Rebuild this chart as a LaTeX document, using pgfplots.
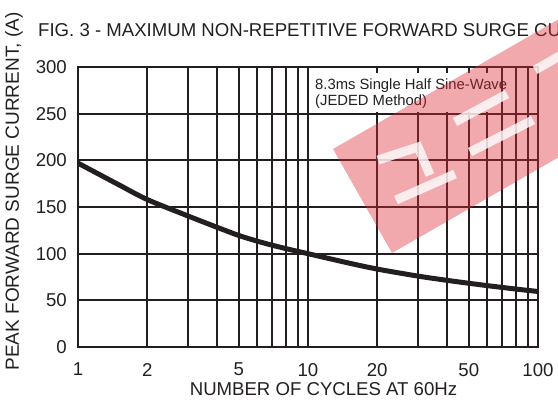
\documentclass[border=0pt]{standalone}
\usepackage{pgfplots}
\pgfplotsset{compat=1.18}
\usepackage{fontspec}
\setmainfont{Liberation Sans}
\definecolor{gridc}{RGB}{35,31,32}
\definecolor{wm}{RGB}{220,40,50}
\begin{document}
\begin{tikzpicture}
\useasboundingbox (-78bp,-61bp) rectangle (480bp,347bp);
\clip (-78bp,-61bp) rectangle (480bp,347bp);
\begin{axis}[
  at={(0,0)}, anchor=south west,
  scale only axis, width=460bp, height=280bp,
  xmode=log, xmin=1, xmax=100, ymin=0, ymax=300,
  xtick={1,2,5,10,20,50,100},
  xticklabels={1,2,5,10,20,50,100},
  ytick={0,50,100,150,200,250,300},
  grid=major,
  major grid style={gridc, line width=2bp},
  axis line style={gridc, line width=2bp},
  major tick length=0pt, minor tick length=0pt,
  /pgf/number format/assume math mode=true,
  ticklabel style={font=\fontsize{18.6bp}{20bp}\selectfont, text=gridc},
  yticklabel style={anchor=east, inner sep=0pt, xshift=-11bp},
  xticklabel style={anchor=north, inner sep=0pt, yshift=-16bp},
]
\addplot[gridc, line width=5bp, smooth] coordinates {
(1,197) (1.5,174) (2,158) (3,140.5) (4,128.5) (5,119.5) (6,113.5) (7,109) (8,105.5) (9,102.5) (10,100)
(15,90) (20,83.5) (30,76) (40,71.5) (50,68.3) (60,65.8) (70,63.8) (80,62.1) (90,60.7) (100,59.5)
};
\end{axis}
\begin{scope}[x=1bp,y=-1bp,shift={(-78,-347)}]
  % remaining vertical grid lines (3,4,6,7,8,9,30,40,60,70,80,90)
  \foreach \gx in {187.7,216.5,257.0,272.4,285.7,297.5,417.7,446.5,487.0,502.4,515.7,527.5}
    \draw[gridc, line width=2bp] (\gx,67) -- (\gx,347);
  % title and labels
  \node[anchor=base west, inner sep=0pt, text=gridc, font=\fontsize{18.6bp}{20bp}\selectfont] at (38,36) {FIG. 3 - MAXIMUM NON-REPETITIVE FORWARD SURGE CURRENT};
  \node[anchor=base, inner sep=0pt, text=gridc, font=\fontsize{18.6bp}{20bp}\selectfont] at (323.5,395) {NUMBER OF CYCLES AT 60Hz};
  \node[rotate=90, inner sep=0pt, text=gridc, font=\fontsize{19bp}{20bp}\selectfont] at (14,191.5) {PEAK FORWARD SURGE CURRENT, (A)};
  % annotation box
  \fill[white] (311,73) rectangle (498,112);
  \node[anchor=base west, inner sep=0pt, text=gridc, font=\fontsize{14.8bp}{16bp}\selectfont] at (315,89) {8.3ms Single Half Sine-Wave};
  \node[anchor=base west, inner sep=0pt, text=gridc, font=\fontsize{14.8bp}{16bp}\selectfont] at (315,105) {(JEDED Method)};
  % watermark
  \fill[wm, opacity=0.4] (333,149) -- (392,253) -- (620,122) -- (620,-16) -- cycle;
  \begin{scope}[white, opacity=0.8, line width=9bp, line cap=butt]
    \draw (378,160) -- (418,147) -- (430,175);
    \draw (396,200) -- (455,174);
    \draw (470,152) -- (533,120);
    \draw (455,122) -- (507,94);
    \draw (535,70) -- (570,50);
  \end{scope}
\end{scope}
\end{tikzpicture}
\end{document}
